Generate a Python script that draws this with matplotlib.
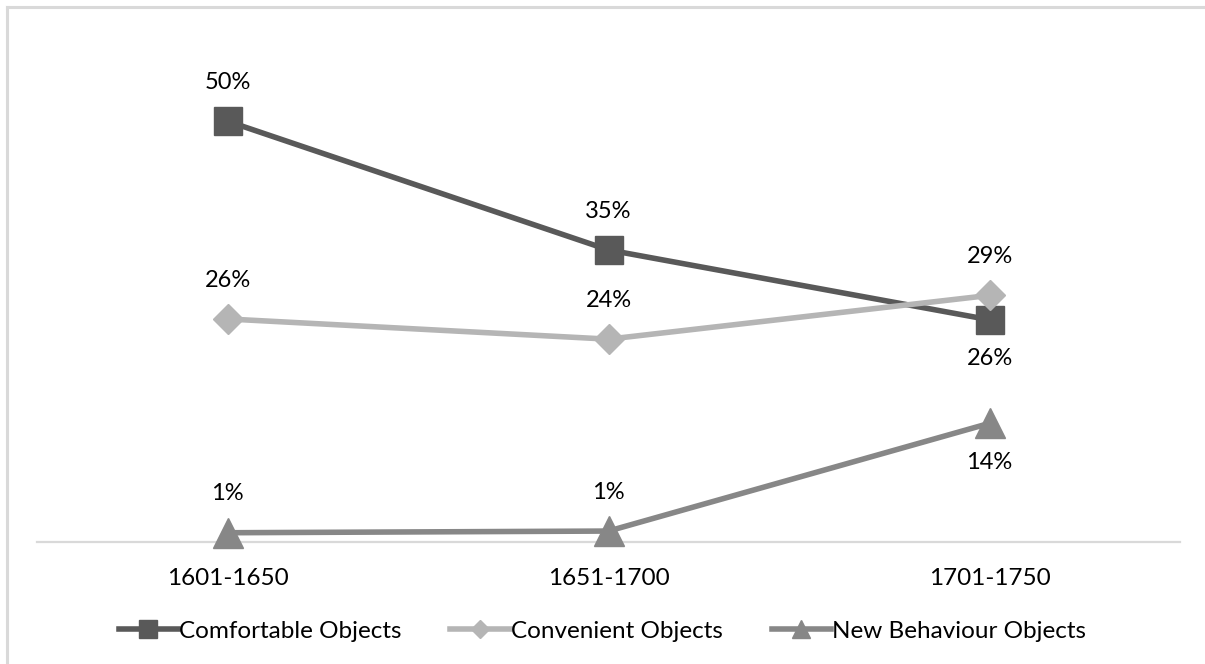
import matplotlib
matplotlib.use("Agg")
import matplotlib.pyplot as plt
from matplotlib.lines import Line2D

periods = ["1601-1650", "1651-1700", "1701-1750"]
series_names = ["Comfortable Objects", "Convenient Objects", "New Behaviour Objects"]
comfortable = [0.50, 0.347, 0.264]
convenient = [0.265, 0.241, 0.293]
new_behaviour = [0.011, 0.013, 0.141]

plt.rcParams["font.family"] = ["Lato", "DejaVu Sans"]

W, H, DPI = 1205, 664, 100
fig = plt.figure(figsize=(W / DPI, H / DPI), dpi=DPI)

# outer chart frame: only its top and left edges fall inside the canvas
frame_kw = dict(transform=fig.transFigure, color="#d9d9d9", linewidth=2.2)
fig.add_artist(Line2D([7 / W, 1.0], [(H - 7) / H] * 2, **frame_kw))
fig.add_artist(Line2D([7 / W] * 2, [0.0, (H - 7) / H], **frame_kw))

ax = fig.add_axes([37 / W, (H - 542) / H, (1180 - 37) / W, (542 - 37) / H])
ax.set_xlim(-0.5, 2.5)
ax.set_ylim(0, 0.6)
ax.patch.set_alpha(0)
for s in ["top", "right", "left"]:
    ax.spines[s].set_visible(False)
ax.spines["bottom"].set_color("#d9d9d9")
ax.spines["bottom"].set_linewidth(1.6)
ax.set_yticks([])
x = list(range(len(periods)))
ax.set_xticks(x)
ax.set_xticklabels(periods, fontsize=17.5)
ax.tick_params(axis="x", length=0, pad=19)

styles = [
    (comfortable, "#595959", "s", 20, ["above", "above", "below"]),
    (convenient, "#b5b5b5", "D", 15, ["above", "above", "above"]),
    (new_behaviour, "#878787", "^", 21, ["above", "above", "below"]),
]

handles = []
for (vals, color, marker, ms, pos), name in zip(styles, series_names):
    ax.plot(x, vals, color=color, linewidth=4, marker=marker, markersize=ms,
            markeredgecolor=color, clip_on=False, zorder=3)
    for xi, v, p in zip(x, vals, pos):
        off = 28 if p == "above" else -28
        ax.annotate(f"{v:.0%}", (xi, v), xytext=(0, off), textcoords="offset points",
                    ha="center", va="center", fontsize=17, color="black")
    handles.append(Line2D([0], [0], color=color, linewidth=4, marker=marker,
                          markersize=ms * 0.62, markeredgecolor=color))

fig.legend(handles, series_names, loc="center", bbox_to_anchor=(0.5, (H - 631) / H),
           ncol=3, frameon=False, fontsize=17.5, handlelength=2.45, handletextpad=0.05,
           columnspacing=2.0)

fig.savefig("out.png", dpi=DPI)
